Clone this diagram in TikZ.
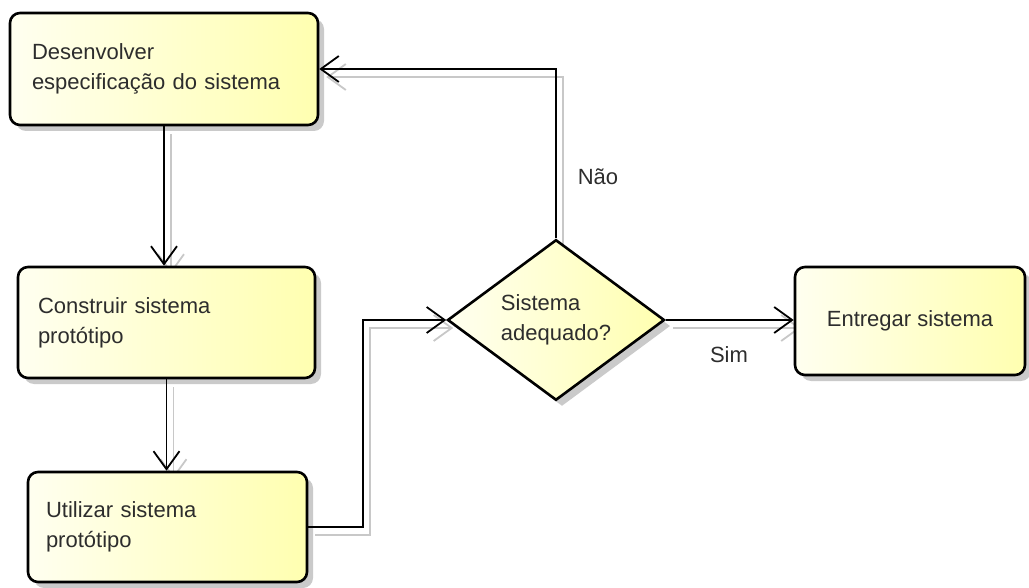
\documentclass[tikz,border=0pt]{standalone}
\usepackage{fontspec}
\setmainfont{Liberation Sans}
\usetikzlibrary{arrows.meta,shapes.geometric,shadows}
\definecolor{fillL}{RGB}{255,255,240}
\definecolor{fillR}{RGB}{255,255,176}
\definecolor{shadowgray}{RGB}{200,200,200}
\definecolor{txt}{RGB}{45,45,45}
\pgfdeclarelayer{bg}
\pgfsetlayers{bg,main}
\begin{document}
\begin{tikzpicture}[x=1pt,y=-1pt,
  every node/.style={font=\fontsize{22}{30}\selectfont, text=txt},
  nshadow/.style={drop shadow={shadow xshift=6pt, shadow yshift=-6pt, fill=black!35, opacity=0.6}},
  box/.style={draw=black, line width=2.6pt, rounded corners=10pt, left color=fillL, right color=fillR, align=left, nshadow},
  dec/.style={diamond, draw=black, line width=2.6pt, left color=fillL, right color=fillR, inner sep=0pt, minimum width=217pt, minimum height=150pt, align=left, nshadow},
  conn/.style={draw=black, line width=1.8pt, -{Straight Barb[length=18pt,width=26pt]}},
  sconn/.style={conn, draw=shadowgray, transform canvas={shift={(7pt,-8pt)}}}
]
\useasboundingbox (0,0) rectangle (1029,588);

\node[box, text width=264pt, inner xsep=22pt, minimum height=112pt] (b1) at (164,69) {Desenvolver\\especificação do sistema};
\node[box, text width=257pt, inner xsep=20pt, minimum height=111pt] (b2) at (166.5,322.5) {Construir sistema\\protótipo};
\node[box, text width=243pt, inner xsep=18pt, minimum height=110pt] (b3) at (167.5,527) {Utilizar sistema\\protótipo};
\node[box, align=center, minimum width=230pt, minimum height=108pt] (b4) at (910,321) {Entregar sistema};
\node[dec] (d) at (556,320) {Sistema\\adequado?};

\coordinate (j1) at (363,0);

\begin{pgfonlayer}{bg}
\draw[sconn] (b1.south) -- (b1.south |- b2.north);
\draw[sconn] (b2.south) -- (b2.south |- b3.north);
\draw[sconn] (b3.east) -- (b3.east -| j1) -- (j1 |- d.west) -- (d.west);
\draw[sconn] (d.north) |- (b1.east);
\draw[sconn] (d.east) -- (d.east -| b4.west);
\end{pgfonlayer}

\draw[conn] (b1.south) -- (b1.south |- b2.north);
\draw[conn] (b2.south) -- (b2.south |- b3.north);
\draw[conn] (b3.east) -- (b3.east -| j1) -- (j1 |- d.west) -- (d.west);
\draw[conn] (d.north) |- (b1.east);
\draw[conn] (d.east) -- (d.east -| b4.west);

\node (nao) at (598,177) {Não};
\node (sim) at (729,355) {Sim};
\end{tikzpicture}
\end{document}
